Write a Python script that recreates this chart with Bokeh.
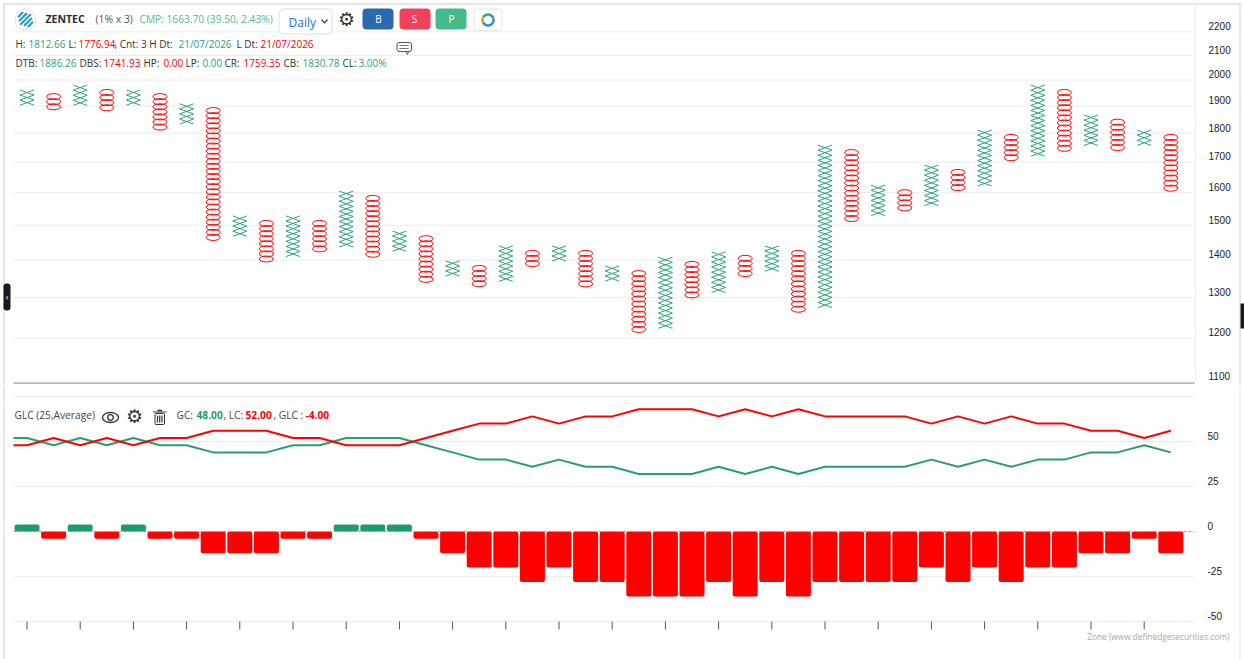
import math
from bokeh.embed import file_html
from bokeh.resources import INLINE
from bokeh.plotting import figure
from bokeh.layouts import column
from bokeh.models import Range1d, Label, BoxAnnotation

# ---- Point & figure columns (alternating X / O, first one is X) ----
column_tops = [1961, 1945, 1980, 1961, 1961, 1945, 1908, 1892, 1528, 1513, 1528, 1513,
               1605, 1590, 1483, 1468, 1398, 1384, 1440, 1426, 1440, 1426, 1384, 1370,
               1408, 1395, 1423, 1412, 1440, 1426, 1758, 1741, 1624, 1608, 1690, 1674,
               1811, 1794, 1980, 1961, 1866, 1849, 1811, 1794]
column_boxes = [3, 3, 4, 4, 3, 7, 4, 26, 4, 8, 8, 6,
                11, 12, 4, 9, 3, 4, 7, 3, 3, 7, 3, 12,
                14, 7, 8, 4, 5, 12, 32, 14, 6, 4, 8, 4,
                11, 5, 14, 12, 6, 6, 3, 11]
box_step = 0.99

# ---- GLC panel ----
gc_values = [52, 48, 52, 48, 52, 48, 48, 44, 44, 44, 48, 48, 52, 52, 52, 48, 44, 40, 40, 36, 40, 36,
             36, 32, 32, 32, 36, 32, 36, 32, 36, 36, 36, 36, 40, 36, 40, 36, 40, 40, 44, 44, 48, 44]
lc_values = [48, 52, 48, 52, 48, 52, 52, 56, 56, 56, 52, 52, 48, 48, 48, 52, 56, 60, 60, 64, 60, 64,
             64, 68, 68, 68, 64, 68, 64, 68, 64, 64, 64, 64, 60, 64, 60, 64, 60, 60, 56, 56, 52, 56]
glc_values = [4, -4, 4, -4, 4, -4, -4, -12, -12, -12, -4, -4, 4, 4, 4, -4, -12, -20, -20, -28, -20, -28,
              -28, -36, -36, -36, -28, -36, -28, -36, -28, -28, -28, -28, -20, -28, -20, -28, -20, -20, -12, -12, -4, -12]

price_ticks = [1100, 1200, 1300, 1400, 1500, 1600, 1700, 1800, 1900, 2000, 2100, 2200]
glc_grid = [-50, -25, 25, 50, 75]
glc_tick_labels = [-50, -25, 0, 25, 50]
x_ticks = list(range(0, 44, 2))

GREEN = "#2fa27c"
BAR_GREEN = "#1f9c6d"
RED = "#ff0000"
FONT = "Open Sans"
AXFONT = "Liberation Sans"
GRID = "#ececec"


def X(px):
    return (px - 26.5) / 26.6


def Y1(py):
    return 2000 * math.exp((79.5 - py) / 505)


def Y2(py):
    return (531.1 - py) / 1.8


x_range = Range1d(X(0), X(1244))

# ------------------------------------------------------------ top panel
p1 = figure(width=1244, height=384, y_axis_type="log", x_axis_location=None, y_axis_location=None,
            x_range=x_range, y_range=Range1d(Y1(384), Y1(0)),
            output_backend="svg", toolbar_location=None,
            min_border_left=0, min_border_right=0, min_border_top=0, min_border_bottom=0)
p1.outline_line_color = None
p1.grid.visible = False
L, R = X(13), X(1194)
p1.segment([L] * len(price_ticks), price_ticks, [R] * len(price_ticks), price_ticks,
           line_color=GRID, line_width=1, level="underlay")

x0, y0, x1, y1, ox, oy = [], [], [], [], [], []
half = 7 / 26.6
for i, (top, n) in enumerate(zip(column_tops, column_boxes)):
    for k in range(n):
        hi = top * box_step ** k
        lo = hi * box_step
        if i % 2 == 0:
            x0 += [i - half, i - half]
            x1 += [i + half, i + half]
            y0 += [hi, lo]
            y1 += [lo, hi]
        else:
            ox.append(i)
            oy.append(math.sqrt(hi * lo))
p1.segment(x0, y0, x1, y1, line_color=GREEN, line_width=1)
p1.ellipse(ox, oy, width=14, height=6, width_units="screen", height_units="screen",
           fill_color=None, line_color=RED, line_width=1)


def text(fig, Yf, px, py, s, color="#333333", size="10px", bold=False, font=FONT, align="left"):
    fig.add_layout(Label(x=X(px), y=Yf(py), text=s, text_color=color, text_font_size=size,
                         text_font=font, text_baseline="middle", text_align=align,
                         text_font_style="bold" if bold else "normal"))


def box(fig, Yf, l, r, t, b, fill, line=None, radius=0, level="underlay"):
    fig.add_layout(BoxAnnotation(left=X(l), right=X(r), top=Yf(t), bottom=Yf(b), fill_color=fill, fill_alpha=1,
                                 line_color=line, line_alpha=1 if line else 0, border_radius=radius, level=level))


for t in price_ticks:
    py = 80 - 505 * math.log(t / 2000) - 6.2
    text(p1, Y1, 1208, py, str(t), color="#222222", size="10px", font=AXFONT)

# frame lines
box(p1, Y1, 3, 1240, 3, 4, "#cfcfcf")
box(p1, Y1, 3, 4, 3, 384, "#cfcfcf")
box(p1, Y1, 1239, 1240, 3, 384, "#cfcfcf")
box(p1, Y1, 1194.5, 1195.5, 3, 382, GRID)
box(p1, Y1, 13, 1194, 382, 384, "#b5b5b5")
box(p1, Y1, 1240, 1244, 303, 328, "#1a1a1a")
box(p1, Y1, 3, 10, 283, 310, "#1a1a1a", radius=3)
text(p1, Y1, 6.5, 296, "‹", color="#ffffff", size="9px", align="center")

# logo
p1.circle([X(25)], [Y1(19)], radius=10.5, radius_units="screen", fill_color="#ffffff", line_color="#e2e2e2")
for off in (-7, -3.5, 0, 3.5, 7):
    reach = 7.5 - abs(off) * 0.55
    p1.segment([X(25 + off * 0.7 - reach * 0.7)], [Y1(19 + off * 0.7 + reach * 0.7)],
               [X(25 + off * 0.7 + reach * 0.7)], [Y1(19 + off * 0.7 - reach * 0.7)],
               line_color="#2a9cc4", line_width=2.2)

# header row 1
text(p1, Y1, 45, 18.5, "ZENTEC", color="#2a2a2a", size="10.5px", bold=True)
text(p1, Y1, 95, 18, "(1% x 3)", color="#555555", size="10.4px")
text(p1, Y1, 139, 18, "CMP: 1663.70 (39.50, 2.43%)", color="#57b795", size="10.2px")
box(p1, Y1, 278.5, 331.5, 8.5, 33.5, "#ffffff", line="#dcdfe6", radius=4)
text(p1, Y1, 288, 21.5, "Daily", color="#1b74c9", size="12px")
p1.line([X(321), X(324), X(327)], [Y1(19), Y1(22.5), Y1(19)], line_color="#444444", line_width=1.2)
text(p1, Y1, 346, 18.5, "⚙", color="#333333", size="19px", font="DejaVu Sans", align="center")
box(p1, Y1, 362, 393, 8, 29, "#2b69ae", radius=4)
box(p1, Y1, 399, 430, 8, 29, "#f4405c", radius=4)
box(p1, Y1, 435, 466, 8, 29, "#47ba8b", radius=4)
box(p1, Y1, 473.5, 501.5, 8.5, 30, "#ffffff", line="#e4e4e4", radius=4)
text(p1, Y1, 378, 18.5, "B", color="#ffffff", align="center")
text(p1, Y1, 414, 18.5, "S", color="#ffffff", align="center")
text(p1, Y1, 451, 18.5, "P", color="#ffffff", align="center")
for start, end, c in [(0.3, 2.6, "#27b36b"), (2.6, 3.6, "#f29a2e"), (3.6, 6.6, "#2a8fd8")]:
    p1.annular_wedge([X(487.5)], [Y1(19.5)], inner_radius=4.2, outer_radius=6.8,
                     inner_radius_units="screen", outer_radius_units="screen",
                     start_angle=start, end_angle=end, fill_color=c, line_color=None)

# comment icon
box(p1, Y1, 396.5, 411, 42, 51, "#ffffff", line="#555555", radius=2)
p1.segment([X(399), X(399)], [Y1(45), Y1(48)], [X(408), X(408)], [Y1(45), Y1(48)], line_color="#777777", line_width=1)
p1.line([X(405), X(407), X(408)], [Y1(51), Y1(54), Y1(51)], line_color="#555555", line_width=1)

# header row 2
DK = "#333333"
TEAL = "#2f9e82"
for px, s, c in [(15, "H:", DK), (28, "1812.66", TEAL), (68, "L:", DK), (78, "1776.94", RED),
                 (114, ", Cnt: 3 H Dt:", DK), (178, "21/07/2026", TEAL), (236, "L Dt:", DK), (260, "21/07/2026", RED)]:
    text(p1, Y1, px, 43.5, s, color=c)
# header row 3
for px, s, c in [(15, "DTB:", DK), (39, "1886.26", TEAL), (79, "DBS:", DK), (103, "1741.93", RED),
                 (143, "HP:", DK), (163, "0.00", RED), (185, "LP:", DK), (202, "0.00", TEAL),
                 (224, "CR:", DK), (243, "1759.35", RED), (283, "CB:", DK), (302, "1830.78", TEAL),
                 (342, "CL:", DK), (358, "3.00%", TEAL)]:
    text(p1, Y1, px, 62.5, s, color=c)

# ------------------------------------------------------------ lower panel
p2 = figure(width=1244, height=275, x_axis_location=None, y_axis_location=None,
            x_range=x_range, y_range=Range1d(Y2(659), Y2(384)),
            output_backend="svg", toolbar_location=None,
            min_border_left=0, min_border_right=0, min_border_top=0, min_border_bottom=0)
p2.outline_line_color = None
p2.grid.visible = False
p2.segment([L] * len(glc_grid), glc_grid, [R] * len(glc_grid), glc_grid,
           line_color=GRID, line_width=1, level="underlay")
p2.segment(x_ticks, [Y2(621)] * len(x_ticks), x_ticks, [Y2(629)] * len(x_ticks), line_color="#555555", line_width=1)

idx = list(range(len(glc_values)))
colors = [BAR_GREEN if v > 0 else RED for v in glc_values]
p2.vbar(idx, width=0.94, top=[max(v, 0) for v in glc_values], bottom=[min(v, 0) for v in glc_values],
        fill_color=colors, line_color=None, border_radius=2)
p2.segment([L], [0], [R], [0], line_color="#999999", line_dash="3 2", line_width=1)
# both lines run flat from the panel's left edge to the first column
p2.line([L] + idx, gc_values[:1] + gc_values, line_color="#2a9d78", line_width=2)
p2.line([L] + idx, lc_values[:1] + lc_values, line_color=RED, line_width=2)

for t in glc_tick_labels:
    text(p2, Y2, 1207, 531.6 - t * 1.8 - 6.2, str(t), color="#222222", size="10px", font=AXFONT)

box(p2, Y2, 3, 4, 384, 659, "#cfcfcf")
box(p2, Y2, 1239, 1240, 384, 659, "#e6e6e6")

text(p2, Y2, 14, 414.5, "GLC (25,Average)", color="#444444", size="10.2px")
for px, s, c, b in [(176, "GC:", "#444444", False), (196, "48.00", "#1f9c6d", True), (223, ", LC:", "#444444", False),
                    (245, "52.00", RED, True), (273, ", GLC :", "#444444", False), (305, "-4.00", RED, True)]:
    text(p2, Y2, px, 414.5, s, color=c, bold=b, size="10.2px")

# eye
p2.ellipse([X(110)], [Y2(417)], width=16, height=10, width_units="screen", height_units="screen",
           fill_color=None, line_color="#333333", line_width=1.3)
p2.circle([X(110)], [Y2(417)], radius=2.8, radius_units="screen", fill_color=None, line_color="#333333", line_width=1.3)
# gear
text(p2, Y2, 134, 415.5, "⚙", color="#333333", size="19px", font="DejaVu Sans", align="center")
# trash
box(p2, Y2, 154.5, 164, 413, 424, "#ffffff", line="#333333", radius=1)
p2.segment([X(152.5), X(157), X(159.2), X(161.5)], [Y2(411.5), Y2(415), Y2(415), Y2(415)],
           [X(166), X(157), X(159.2), X(161.5)], [Y2(411.5), Y2(422), Y2(422), Y2(422)], line_color="#333333", line_width=1.2)
p2.segment([X(157)], [Y2(410)], [X(161.5)], [Y2(410)], line_color="#333333", line_width=1.5)

text(p2, Y2, 1229, 636, "Zone (www.definedgesecurities.com)", color="#a8a8a8", size="8.3px", align="right")

page = column(p1, p2, spacing=0, styles={"position": "absolute", "left": "0px", "top": "0px"})
open("out.html", "w").write(file_html(page, INLINE))
